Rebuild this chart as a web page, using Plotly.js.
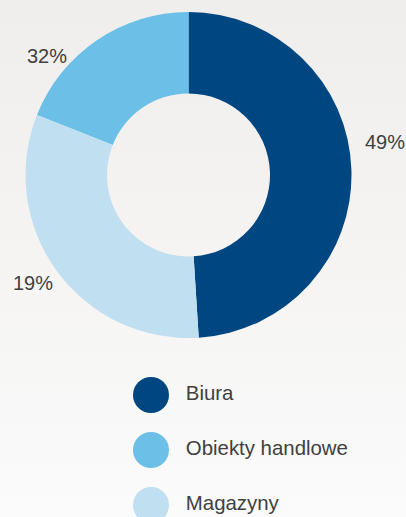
<!DOCTYPE html>
<html>
<head>
<meta charset="utf-8">
<script src="https://cdn.plot.ly/plotly-3.0.1.min.js"></script>
<style>
  html, body { margin: 0; padding: 0; }
  body { width: 406px; height: 517px; background: linear-gradient(to bottom, #efeeed 0%, #f5f4f3 50%, #fbfbfb 100%); }
  #chart { width: 406px; height: 517px; }
</style>
</head>
<body>
<div id="chart"></div>
<script>
// Data
var categories = ['Biura', 'Obiekty handlowe', 'Magazyny'];
var shares = [49, 19, 32];            // slice sizes as drawn
var pctLabels = ['49%', '32%', '19%']; // percentage texts as printed
var colors = ['#004680', '#6cbfe7', '#c0dff1'];

var textColor = '#404040';
var fontFamily = '"Liberation Sans", Arial, sans-serif';

var pie = {
  type: 'pie',
  labels: categories,
  values: shares,
  sort: false,
  direction: 'counterclockwise',
  rotation: 0,
  hole: 0.5,
  marker: { colors: colors, line: { width: 0 } },
  textinfo: 'none',
  hoverinfo: 'label+percent',
  showlegend: false,
  domain: { x: [25 / 406, 352 / 406], y: [179 / 517, 505 / 517] }
};

// custom legend drawn with a scatter trace on hidden axes
var legendTrace = {
  type: 'scatter',
  mode: 'markers+text',
  x: categories.map(function () { return 0; }),
  y: categories,
  text: categories.map(function (c) { return '\u00a0\u00a0' + c; }),
  textposition: 'middle right',
  textfont: { size: 20.4, color: textColor, family: fontFamily },
  marker: { size: 36, color: colors, line: { width: 0 } },
  hoverinfo: 'none',
  showlegend: false,
  cliponaxis: false
};

var annotations = [
  { x: 385 / 406, y: 1 - 142 / 517 },
  { x: 47 / 406, y: 1 - 56 / 517 },
  { x: 33 / 406, y: 1 - 283 / 517 }
].map(function (p, i) {
  return {
    xref: 'paper', yref: 'paper', x: p.x, y: p.y,
    xanchor: 'center', yanchor: 'middle',
    text: pctLabels[i], showarrow: false,
    font: { size: 20, color: textColor, family: fontFamily }
  };
});

var layout = {
  width: 406,
  height: 517,
  margin: { l: 0, r: 0, t: 0, b: 0 },
  paper_bgcolor: 'rgba(0,0,0,0)',
  plot_bgcolor: 'rgba(0,0,0,0)',
  font: { family: fontFamily, color: textColor },
  showlegend: false,
  xaxis: { visible: false, range: [-151, 255], fixedrange: true, domain: [0, 1] },
  yaxis: { visible: false, type: 'category', range: [2 + 12 / 55, -395 / 55], fixedrange: true, domain: [0, 1] },
  annotations: annotations
};

Plotly.newPlot('chart', [pie, legendTrace], layout, { displayModeBar: false, staticPlot: true });
</script>
</body>
</html>
